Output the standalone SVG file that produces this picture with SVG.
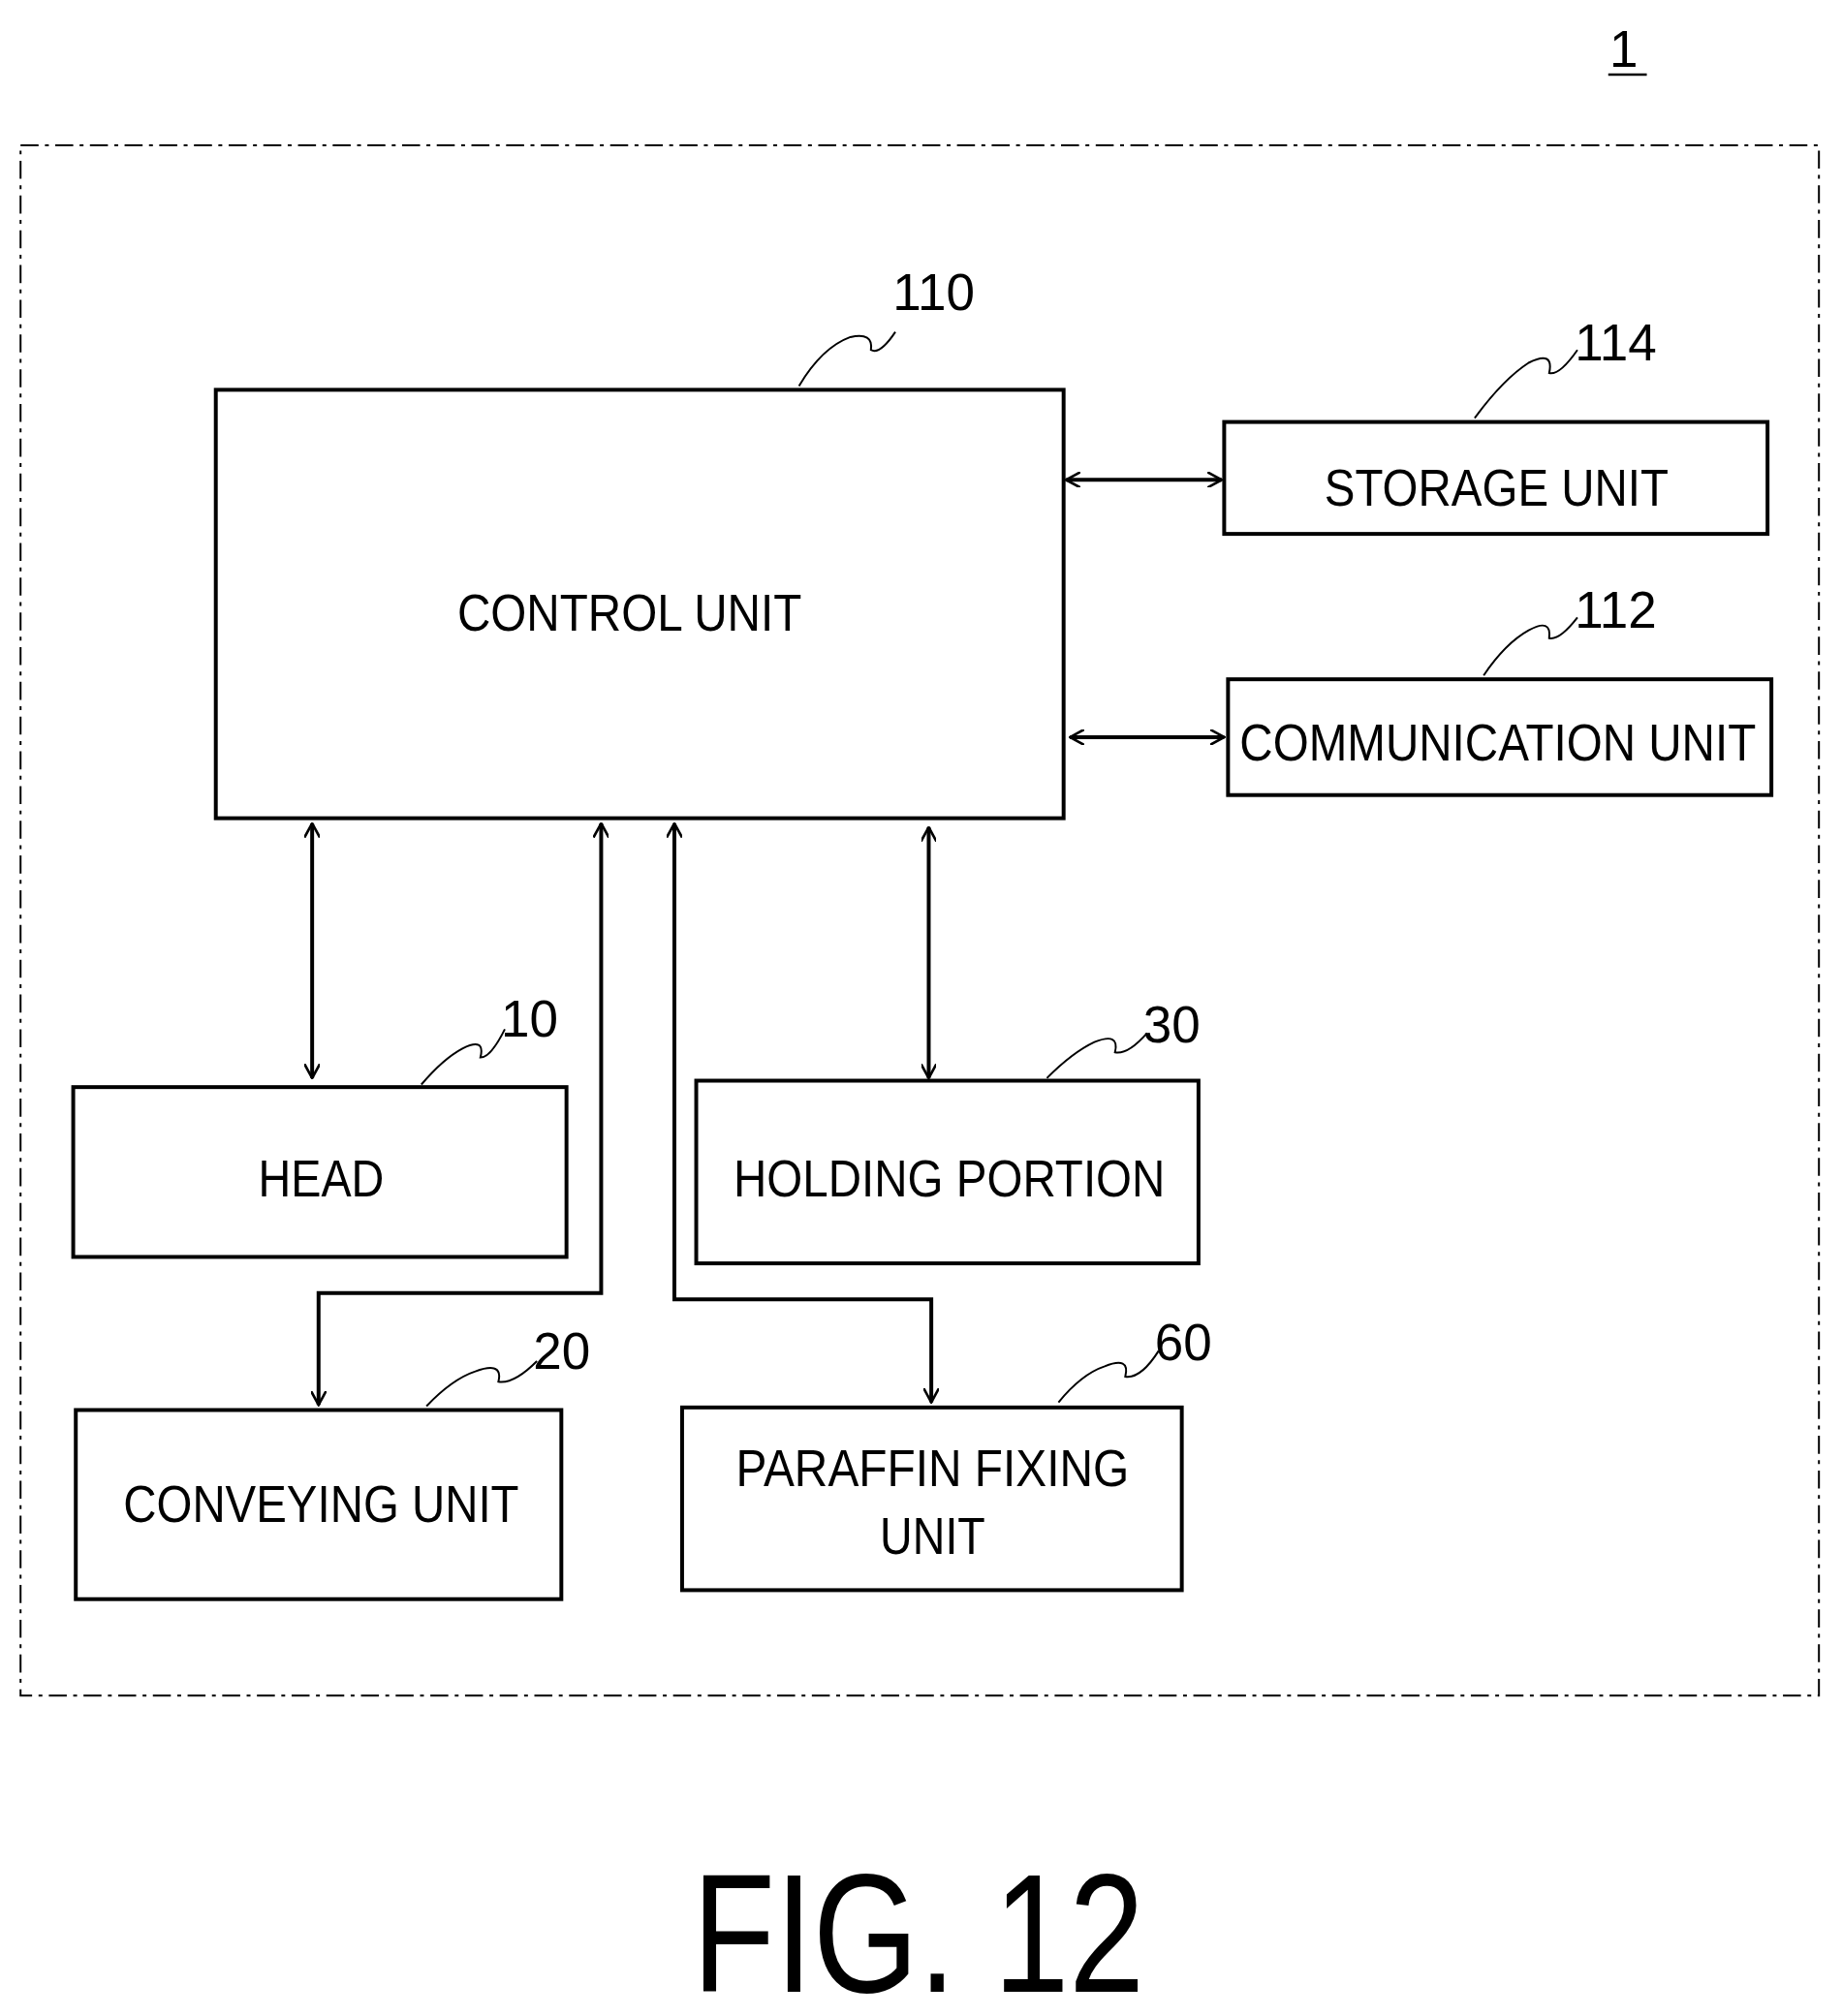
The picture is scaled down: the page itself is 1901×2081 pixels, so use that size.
<svg xmlns="http://www.w3.org/2000/svg" width="1901" height="2081" viewBox="0 0 1901 2081">
<style>
.b{fill:#fff;stroke:#000;stroke-width:3}
.t{font-family:"Liberation Sans",Arial,sans-serif;font-size:40px;text-anchor:middle;fill:#000}
.n{font-family:"Liberation Sans",Arial,sans-serif;font-size:40px;fill:#000}
.c{fill:none;stroke:#000;stroke-width:3}
.l{fill:none;stroke:#000;stroke-width:1.5}
</style>
<defs>
<marker id="a" viewBox="0 0 12 12" refX="11" refY="6" markerWidth="12" markerHeight="12" markerUnits="userSpaceOnUse" orient="auto-start-reverse">
<path d="M0,0 L11,6 L0,12" fill="none" stroke="#000" stroke-width="2"/>
</marker>
</defs>
<rect width="1901" height="2081" fill="#fff"/>
<g transform="scale(1.3257,1.328)">
<text class="n" x="1253" y="52">1</text>
<line x1="1252" y1="58" x2="1282" y2="58" stroke="#000" stroke-width="2"/>
<rect x="16" y="113" width="1400" height="1205" fill="none" stroke="#000" stroke-width="1.5" stroke-dasharray="14,5,3,5"/>
<g id="control"><rect class="b" x="168" y="303" width="660" height="333"/><text class="t" x="490" y="490" textLength="268" lengthAdjust="spacingAndGlyphs">CONTROL UNIT</text></g>
<g id="storage"><rect class="b" x="953" y="328" width="423" height="87"/><text class="t" x="1165" y="393" textLength="268" lengthAdjust="spacingAndGlyphs">STORAGE UNIT</text></g>
<g id="comm"><rect class="b" x="956" y="528" width="423" height="90"/><text class="t" x="1166" y="591" textLength="402" lengthAdjust="spacingAndGlyphs">COMMUNICATION UNIT</text></g>
<g id="head"><rect class="b" x="57" y="845" width="384" height="132"/><text class="t" x="250" y="930" textLength="98" lengthAdjust="spacingAndGlyphs">HEAD</text></g>
<g id="holding"><rect class="b" x="542" y="840" width="391" height="142"/><text class="t" x="739" y="930" textLength="336" lengthAdjust="spacingAndGlyphs">HOLDING PORTION</text></g>
<g id="conveying"><rect class="b" x="59" y="1096" width="378" height="147"/><text class="t" x="250" y="1183" textLength="308" lengthAdjust="spacingAndGlyphs">CONVEYING UNIT</text></g>
<g id="paraffin"><rect class="b" x="531" y="1094" width="389" height="142"/><text class="t" x="726" y="1155" textLength="306" lengthAdjust="spacingAndGlyphs">PARAFFIN FIXING</text><text class="t" x="726" y="1208" textLength="82" lengthAdjust="spacingAndGlyphs">UNIT</text></g>
<g id="connectors">
<line class="c" x1="830" y1="373" x2="951" y2="373" marker-start="url(#a)" marker-end="url(#a)"/>
<line class="c" x1="833" y1="573" x2="953" y2="573" marker-start="url(#a)" marker-end="url(#a)"/>
<line class="c" x1="243" y1="640" x2="243" y2="838" marker-start="url(#a)" marker-end="url(#a)"/>
<line class="c" x1="723" y1="643" x2="723" y2="838" marker-start="url(#a)" marker-end="url(#a)"/>
<polyline class="c" points="468,640 468,1005 248,1005 248,1092" marker-start="url(#a)" marker-end="url(#a)"/>
<polyline class="c" points="525,640 525,1010 725,1010 725,1090" marker-start="url(#a)" marker-end="url(#a)"/>
<path class="l" d="M622,300 Q640,270 662,262 Q680,258 678,272 Q685,276 697,258"/>
<path class="l" d="M1148,325 Q1170,295 1190,282 Q1210,272 1206,290 Q1214,292 1228,272"/>
<path class="l" d="M1155,525 Q1172,500 1190,490 Q1208,480 1206,496 Q1214,498 1228,480"/>
<path class="l" d="M328,843 Q345,823 360,815 Q378,806 374,822 Q382,822 393,800"/>
<path class="l" d="M815,838 Q835,818 852,810 Q872,802 868,818 Q878,820 893,803"/>
<path class="l" d="M332,1093 Q352,1072 370,1066 Q392,1058 388,1074 Q400,1076 418,1058"/>
<path class="l" d="M824,1090 Q842,1068 860,1062 Q880,1054 876,1070 Q888,1072 902,1050"/>
</g>
<text class="n" x="695" y="241">110</text>
<text class="n" x="1226" y="280">114</text>
<text class="n" x="1226" y="488">112</text>
<text class="n" x="390" y="806">10</text>
<text class="n" x="890" y="810">30</text>
<text class="n" x="415" y="1064">20</text>
<text class="n" x="899" y="1057">60</text>
<text class="t" x="715" y="1548" style="font-size:132px" textLength="352" lengthAdjust="spacingAndGlyphs">FIG. 12</text>
</g>
</svg>
